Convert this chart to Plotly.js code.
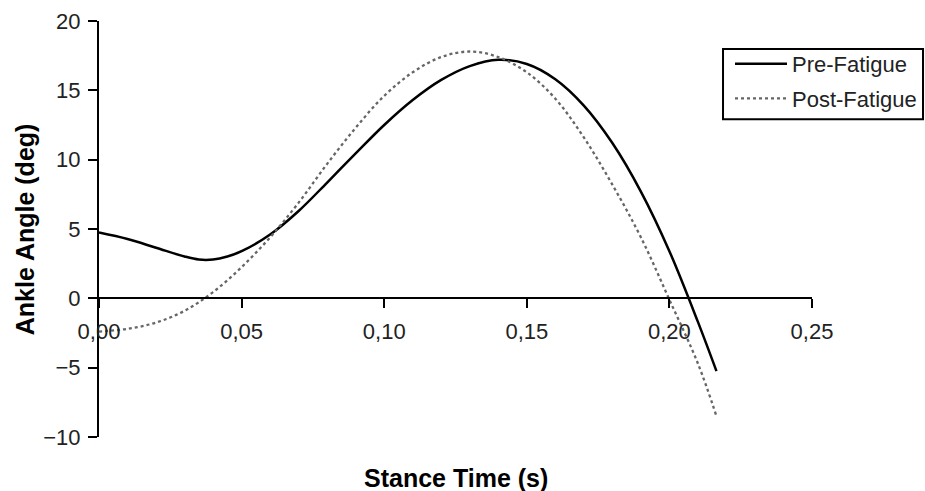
<!DOCTYPE html>
<html>
<head>
<meta charset="utf-8">
<script src="https://cdn.plot.ly/plotly-3.0.1.min.js"></script>
<style>html,body{margin:0;padding:0;background:#fff;}#chart{width:925px;height:491px;}</style>
</head>
<body>
<div id="chart"></div>
<script>
// Pre-Fatigue series (stance time s, ankle angle deg)
const preTime  = [0, 0.01, 0.02, 0.03, 0.035, 0.04, 0.045, 0.05, 0.06, 0.07, 0.08, 0.09, 0.10, 0.11, 0.12, 0.13, 0.14, 0.15, 0.16, 0.17, 0.18, 0.19, 0.20, 0.21, 0.2165];
const preAngle = [4.75, 4.28, 3.65, 3.02, 2.8, 2.8, 3.02, 3.4, 4.6, 6.3, 8.35, 10.45, 12.5, 14.3, 15.75, 16.75, 17.2, 16.9, 15.8, 13.9, 11.2, 7.7, 3.4, -1.7, -5.25];
// Post-Fatigue series
const postTime  = [0, 0.01, 0.02, 0.03, 0.04, 0.05, 0.06, 0.07, 0.08, 0.09, 0.10, 0.11, 0.12, 0.13, 0.14, 0.15, 0.16, 0.17, 0.18, 0.19, 0.20, 0.21, 0.2165];
const postAngle = [-2.4, -2.2, -1.75, -0.9, 0.45, 2.25, 4.4, 6.9, 9.7, 12.3, 14.6, 16.3, 17.4, 17.8, 17.4, 16.3, 14.4, 11.6, 8.2, 4.4, -0.1, -4.7, -8.5];

const seriesNames = ["Pre-Fatigue", "Post-Fatigue"];
const xRange = [0, 0.25];
const yRange = [-10, 20];
const xTitle = "Stance Time (s)";
const yTitle = "Ankle Angle (deg)";

const traces = [
  {x: preTime, y: preAngle, name: seriesNames[0], type: "scatter", mode: "lines",
   line: {color: "#000", width: 2.5, shape: "spline", smoothing: 1}, legendgroup: "a"},
  {x: postTime, y: postAngle, name: seriesNames[1], type: "scatter", mode: "lines",
   line: {color: "#666", width: 2.3, dash: "dot", shape: "spline", smoothing: 1}, legendgroup: "b"}
];

const font = "Liberation Sans, Arial, sans-serif";
const layout = {
  width: 925, height: 491,
  margin: {l: 99, r: 113, t: 21, b: 54, autoexpand: false},
  paper_bgcolor: "#fff", plot_bgcolor: "#fff",
  separators: ", ",
  showlegend: true,
  font: {family: font, size: 22, color: "#222"},
  xaxis: {
    range: xRange, dtick: 0.05, tick0: 0, tickformat: ".2f",
    anchor: "free", position: (0 - yRange[0]) / (yRange[1] - yRange[0]),
    showline: true, linecolor: "#000", linewidth: 2,
    ticks: "outside", ticklen: 9, tickwidth: 2, tickcolor: "#000",
    ticklabelstandoff: 4, automargin: false,
    showgrid: false, zeroline: false,
    tickfont: {family: font, size: 22, color: "#222"}
  },
  yaxis: {
    range: yRange, dtick: 5, tick0: 0,
    showline: true, linecolor: "#000", linewidth: 2,
    ticks: "outside", ticklen: 9, tickwidth: 2, tickcolor: "#000",
    ticklabelstandoff: 3, automargin: false,
    showgrid: false, zeroline: false,
    tickfont: {family: font, size: 22, color: "#222"}
  },
  legend: {
    x: 0.885, xanchor: "left", y: 0.947, yanchor: "top",
    borderwidth: 0, bgcolor: "rgba(0,0,0,0)",
    traceorder: "grouped", tracegroupgap: 3, itemwidth: 52,
    font: {family: font, size: 22, color: "#222"}
  },
  shapes: [
    {type: "rect", xref: "paper", yref: "paper", x0: 0.8752, x1: 1.1557, y0: 0.764, y1: 0.9327,
     line: {color: "#000", width: 2}, fillcolor: "rgba(0,0,0,0)", layer: "above"}
  ],
  annotations: [
    {text: "<b>" + xTitle + "</b>", xref: "paper", yref: "paper", x: 0.5, y: -0.0986,
     xanchor: "center", yanchor: "middle", showarrow: false,
     font: {family: font, size: 25, color: "#000"}},
    {text: "<b>" + yTitle + "</b>", xref: "paper", yref: "paper", x: -0.1035, y: 0.5,
     xanchor: "center", yanchor: "middle", showarrow: false, textangle: -90,
     font: {family: font, size: 25, color: "#000"}}
  ]
};

Plotly.newPlot("chart", traces, layout, {displayModeBar: false, staticPlot: true});
</script>
</body>
</html>
